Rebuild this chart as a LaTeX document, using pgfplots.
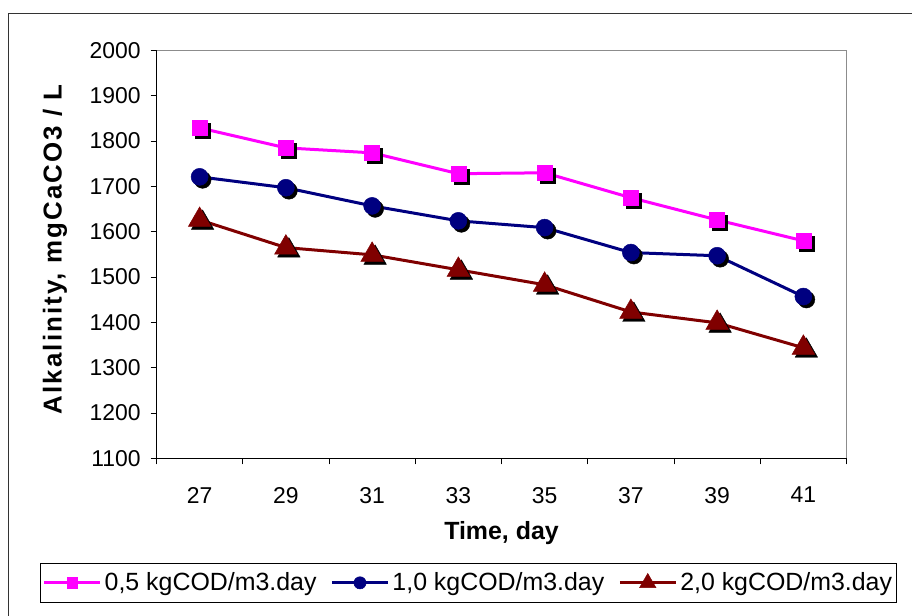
\documentclass[border=0pt]{standalone}
\usepackage{fontspec}
\setmainfont{Liberation Sans}
\usepackage{pgfplots}
\pgfplotsset{compat=1.18}
\definecolor{cpink}{RGB}{255,0,255}
\definecolor{cnavy}{RGB}{0,0,128}
\definecolor{cmaroon}{RGB}{128,0,0}
\begin{document}
\fontsize{23}{27}\selectfont
\begin{tikzpicture}[x=1bp,y=1bp]
\useasboundingbox (0,0) rectangle (912,616);
\draw[line width=1bp, black!80] (8,0) -- (8,602) -- (912,602);
\begin{axis}[
  at={(156.5bp,157.6bp)}, anchor=south west,
  scale only axis, width=690bp, height=408bp,
  xmin=-0.5, xmax=7.5, ymin=1100, ymax=2000,
  axis x line*=bottom, axis y line*=left,
  axis line style={line width=1bp, black, -},
  xtick={0,...,7}, xticklabels={27,29,31,33,35,37,39,41},
  major x tick style={draw=none},
  minor xtick={-0.5,0.5,...,7.5},
  minor x tick style={line width=1bp, black},
  ytick={1100,1200,...,2000},
  major y tick style={line width=1bp, black},
  tick align=outside,
  major tick length=6bp, minor tick length=6bp,
  /pgf/number format/assume math mode=true,
  /pgf/number format/1000 sep={},
  tick label style={font=\fontsize{23}{27}\selectfont},
  yticklabel style={xshift=-2bp},
  xticklabel style={yshift=-15bp},
  xlabel={\textbf{Time, day}},
  ylabel={\textbf{\addfontfeature{LetterSpace=8}Alkalinity, mgCaCO3 / L}},
  xlabel style={at={(axis description cs:0.5,-0.184)}, anchor=center, font=\fontsize{25}{29}\selectfont},
  ylabel style={at={(axis description cs:-0.147,0.515)}, anchor=center, rotate=0, font=\fontsize{26}{30}\selectfont},
  legend columns=3,
  legend style={at={(axis description cs:0.452,-0.305)}, anchor=center, draw=black, line width=1bp,
    font=\fontsize{25}{29}\selectfont, inner xsep=2bp, inner ysep=7bp,
    /tikz/every even column/.append style={column sep=12bp},
    /tikz/every odd column/.append style={column sep=1bp}},
  legend image code/.code={\draw[mark repeat=2, mark phase=2, /tikz/every mark/.append style={scale=0.72}]
      plot coordinates {(0bp,0bp) (28bp,0bp) (56bp,0bp)};},
  clip=false,
]
% series 1
\addplot[forget plot, only marks, black, mark=square*, mark size=7.5bp, mark options={xshift=3bp, yshift=-3bp}]
  coordinates {(0,1829) (1,1785) (2,1774) (3,1728) (4,1730) (5,1675) (6,1626) (7,1580)};
\addplot[cpink, line width=3bp, mark=square*, mark size=7.5bp, mark options={line width=0.5bp}]
  coordinates {(0,1829) (1,1785) (2,1774) (3,1728) (4,1730) (5,1675) (6,1626) (7,1580)};
\addlegendentry{0,5 kgCOD/m3.day}
% series 2
\addplot[forget plot, only marks, black, mark=*, mark size=8.5bp, mark options={xshift=3bp, yshift=-3bp}]
  coordinates {(0,1721) (1,1697) (2,1657) (3,1624) (4,1609) (5,1554) (6,1547) (7,1457)};
\addplot[cnavy, line width=3bp, mark=*, mark size=8.5bp, mark options={line width=0.5bp}]
  coordinates {(0,1721) (1,1697) (2,1657) (3,1624) (4,1609) (5,1554) (6,1547) (7,1457)};
\addlegendentry{1,0 kgCOD/m3.day}
% series 3
\addplot[forget plot, only marks, black, mark=triangle*, mark size=13bp, mark options={xshift=3bp, yshift=-3bp}]
  coordinates {(0,1626) (1,1565) (2,1549) (3,1516) (4,1483) (5,1423) (6,1399) (7,1344)};
\addplot[cmaroon, line width=3bp, mark=triangle*, mark size=13bp, mark options={line width=0.5bp}]
  coordinates {(0,1626) (1,1565) (2,1549) (3,1516) (4,1483) (5,1423) (6,1399) (7,1344)};
\addlegendentry{2,0 kgCOD/m3.day}
\draw[line width=1bp, black!45] (rel axis cs:0,1) -- (rel axis cs:1,1) -- (rel axis cs:1,0);
\end{axis}
\end{tikzpicture}
\end{document}
